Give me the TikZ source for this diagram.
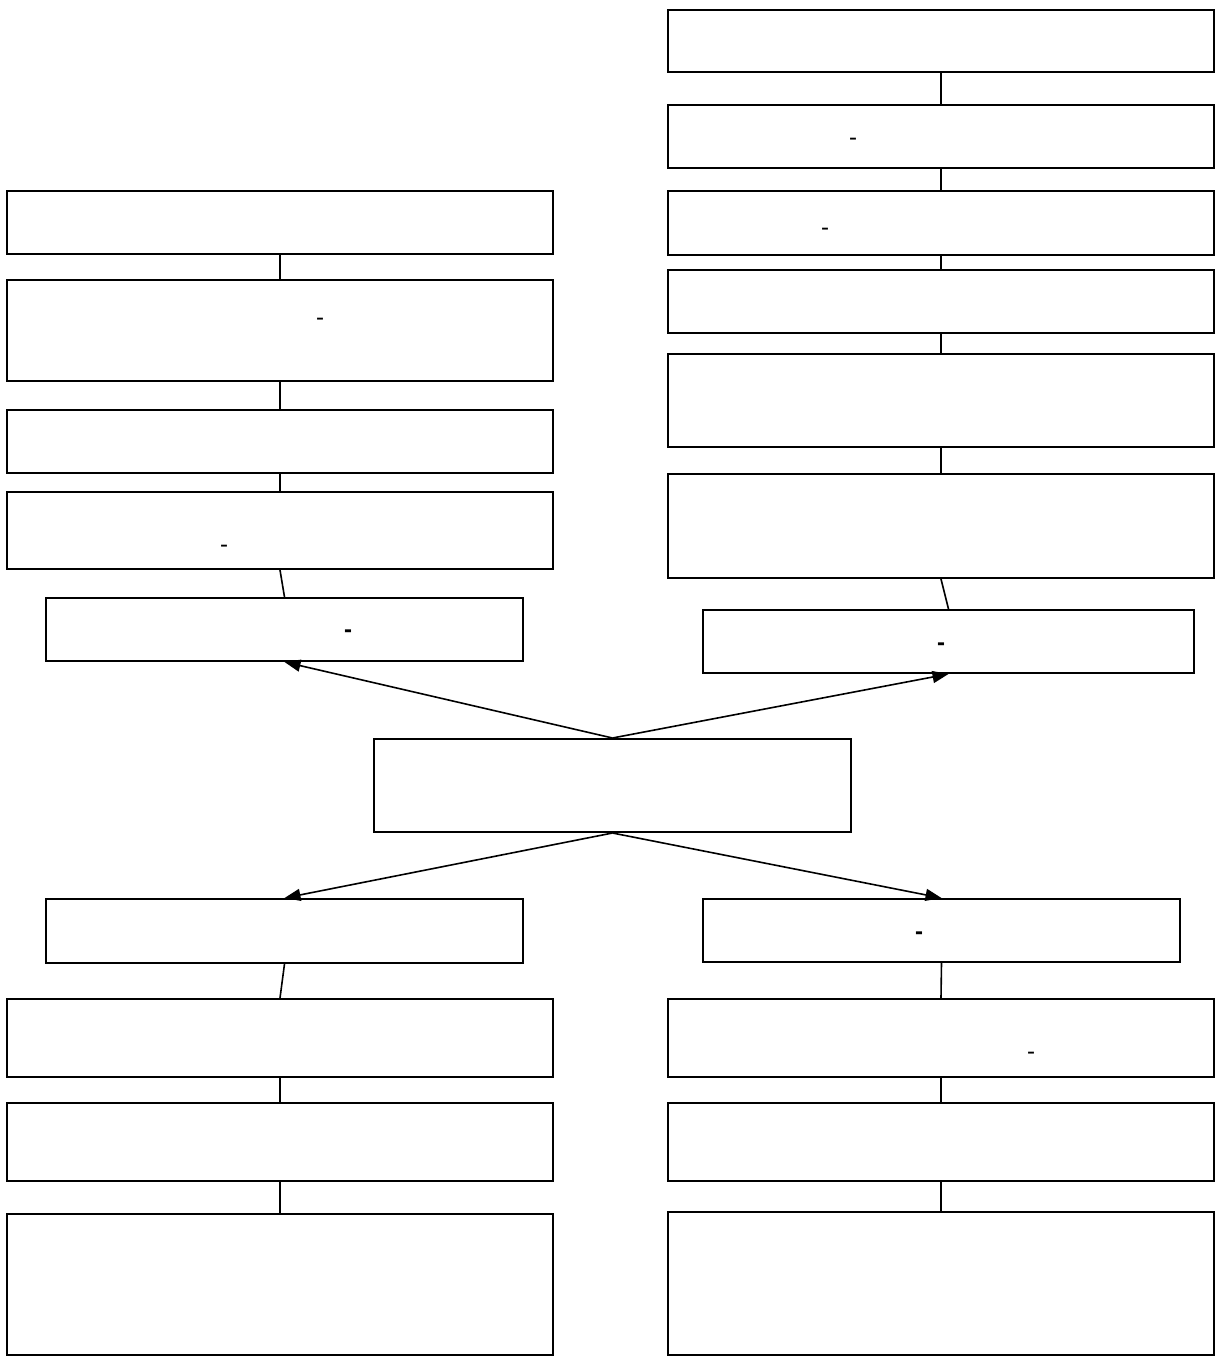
\documentclass[tikz,border=0pt]{standalone}
\usepackage{fontspec}
\setsansfont{Liberation Sans}
\usetikzlibrary{positioning,calc,arrows.meta}

\begin{document}
\begin{tikzpicture}[x=0.5pt,y=-0.5pt,
    box/.style={draw,line width=1pt,inner sep=0pt,minimum width=273pt,minimum height=31.5pt},
    narrowbox/.style={box,minimum width=238.5pt},
    dashmark/.style={inner sep=0pt,font=\sffamily\large},
    bolddashmark/.style={dashmark,font=\sffamily\bfseries\large},
    link/.style={line width=0.8pt},
    arr/.style={line width=0.8pt,-{Triangle[length=8pt,width=6pt]}}]
      \useasboundingbox (0,0) rectangle (1217,1356);

      % left column, top
      \node[box] (l1) at (280,222.5) {};
      \node[box,minimum height=50.5pt] (l2) at (280,330.5) {};
      \node[box] (l3) at (280,441.5) {};
      \node[box,minimum height=38.5pt] (l4) at (280,530.5) {};
      \node[narrowbox] (l5) at (284.5,629.5) {};

      % right column, top
      \node[box,minimum height=31pt] (r1) at (941,41) {};
      \node[box] (r2) at (941,136.5) {};
      \node[box,minimum height=32pt] (r3) at (941,223) {};
      \node[box] (r4) at (941,301.5) {};
      \node[box,minimum height=46.5pt] (r5) at (941,400.5) {};
      \node[box,minimum height=52pt] (r6) at (941,526) {};
      \node[box,minimum width=245.5pt] (r7) at (948.5,641.5) {};

      % centre
      \node[narrowbox,minimum height=46.5pt] (c) at (612.5,785.5) {};

      % left column, bottom
      \node[narrowbox,minimum height=32pt] (b1) at (284.5,931) {};
      \node[box,minimum height=39pt] (b2) at (280,1038) {};
      \node[box,minimum height=39pt] (b3) at (280,1142) {};
      \node[box,minimum height=70.5pt] (b4) at (280,1284.5) {};

      % right column, bottom
      \node[narrowbox] (d1) at (941.5,930.5) {};
      \node[box,minimum height=39pt] (d2) at (941,1038) {};
      \node[box,minimum height=39pt] (d3) at (941,1142) {};
      \node[box,minimum height=71.5pt] (d4) at (941,1283.5) {};

      % dashes
      \node[dashmark] (l2m) at (320,322) {-};
      \node[dashmark] (l4m) at (224,549) {-};
      \node[bolddashmark] (l5m) at (348,634) {-};
      \node[dashmark] (r2m) at (853,142) {-};
      \node[dashmark] (r3m) at (825,232) {-};
      \node[bolddashmark] (r7m) at (941,647) {-};
      \node[bolddashmark] (d1m) at (919,936) {-};
      \node[dashmark] (d2m) at (1031,1056) {-};

      \draw[link] (l1) -- (l2);
      \draw[link] (l2) -- (l3);
      \draw[link] (l3) -- (l4);
      \draw[link] (l4.south) -- (l5.north);

      \draw[link] (r1) -- (r2);
      \draw[link] (r2) -- (r3);
      \draw[link] (r3) -- (r4);
      \draw[link] (r4) -- (r5);
      \draw[link] (r5) -- (r6);
      \draw[link] (r6.south) -- (r7.north);

      \draw[link] (b1.south) -- (b2.north);
      \draw[link] (b2) -- (b3);
      \draw[link] (b3) -- (b4);

      \draw[link] (d1.south) -- (d2.north);
      \draw[link] (d2) -- (d3);
      \draw[link] (d3) -- (d4);

      \draw[arr] (c.north) -- (l5.south);
      \draw[arr] (c.north) -- (r7.south);
      \draw[arr] (c.south) -- (b1.north);
      \draw[arr] (c.south) -- (d1.north);

    \end{tikzpicture}
\end{document}
